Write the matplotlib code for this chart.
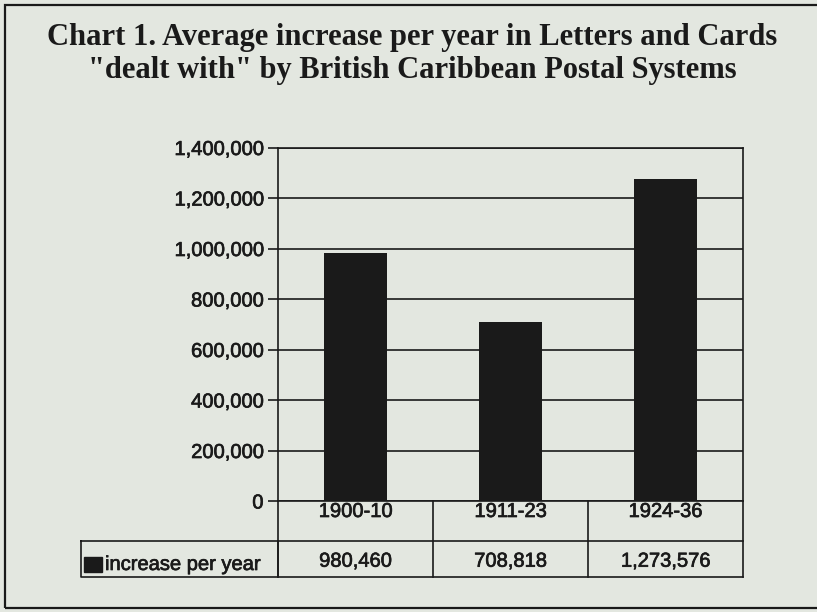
import matplotlib
matplotlib.use("Agg")
import matplotlib.pyplot as plt
import matplotlib.transforms as mtransforms
import matplotlib.patheffects as pe
from matplotlib.patches import Rectangle
from matplotlib.ticker import FuncFormatter

# data
periods = ["1900-10", "1911-23", "1924-36"]
increase = [980460, 708818, 1273576]
series_name = "increase per year"
yticks = [0, 200000, 400000, 600000, 800000, 1000000, 1200000, 1400000]
title1 = "Chart 1. Average increase per year in Letters and Cards"
title2 = "\"dealt with\" by British Caribbean Postal Systems"

bg = "#e3e7e0"
ink = "#1a1a1a"
# scanned print looks a bit heavier than the clean font
thick = [pe.withStroke(linewidth=0.5, foreground=ink)]

fig = plt.figure(figsize=(8.17, 6.12), dpi=100, facecolor=bg)

# outer frame of the scanned chart
fig.patches.append(Rectangle((0.0061, 0.0065), 1.2, 0.9853, transform=fig.transFigure,
                             fill=False, edgecolor=ink, lw=1.6))

for txt, yb in [(title1, 45), (title2, 78)]:
    fig.text(0.505, 1 - yb / 612, txt, ha="center", va="baseline", fontsize=22,
             fontweight="bold", family="Liberation Serif", color=ink)

ax = fig.add_axes([278 / 817, 1 - 501 / 612, 465 / 817, 353.5 / 612])
ax.set_facecolor(bg)
x = list(range(len(periods)))
ax.bar(x, increase, width=0.41, color=ink, zorder=3)
ax.set_xlim(-0.5, len(periods) - 0.5)
ax.set_ylim(0, 1400000)
ax.set_yticks(yticks)
ax.yaxis.set_major_formatter(FuncFormatter(lambda v, p: f"{int(v):,}"))
ax.set_xticks([])
ax.tick_params(axis="y", length=7, width=1.2, pad=3.5, labelsize=14.5, colors=ink)
for lab in ax.get_yticklabels():
    lab.set_family("Liberation Sans")
    lab.set_path_effects(thick)
ax.grid(axis="y", color=ink, lw=1.2, zorder=1)
for s in ax.spines.values():
    s.set_color(ink)
    s.set_linewidth(1.2)

# data table below the plot
tr = mtransforms.blended_transform_factory(ax.transData, ax.transAxes)
r1 = -39.7 / 353.5
r2 = -76.3 / 353.5
kw = dict(color=ink, lw=1.2, clip_on=False, transform=tr)
for i in range(len(periods) + 1):
    ax.plot([i - 0.5, i - 0.5], [0, r2], **kw)
ax.plot([-0.5, len(periods) - 0.5], [r1, r1], **kw)
ax.plot([-0.5, len(periods) - 0.5], [r2, r2], **kw)
for i, (p, v) in enumerate(zip(periods, increase)):
    ax.text(i, -16 / 353.5, p, transform=tr, ha="center", va="baseline",
            fontsize=14.5, family="Liberation Sans", color=ink, path_effects=thick)
    ax.text(i, -65.7 / 353.5, f"{v:,}", transform=tr, ha="center", va="baseline",
            fontsize=14.5, family="Liberation Sans", color=ink, path_effects=thick)

# legend cell
lx = (80.7 - 278) / 465
ax.plot([lx, 0, 0, lx, lx], [r1, r1, r2, r2, r1], color=ink, lw=1.2,
        clip_on=False, transform=ax.transAxes)
ax.add_patch(Rectangle(((84 - 278) / 465, (501 - 571.7) / 353.5), 17.7 / 465, 15 / 353.5,
                       transform=ax.transAxes, color=ink, clip_on=False))
ax.text((105 - 278) / 465, (501 - 570) / 353.5, series_name, transform=ax.transAxes,
        ha="left", va="baseline", fontsize=14.5, family="Liberation Sans", color=ink,
        path_effects=thick)

fig.savefig("out.png", dpi=100, facecolor=bg)
